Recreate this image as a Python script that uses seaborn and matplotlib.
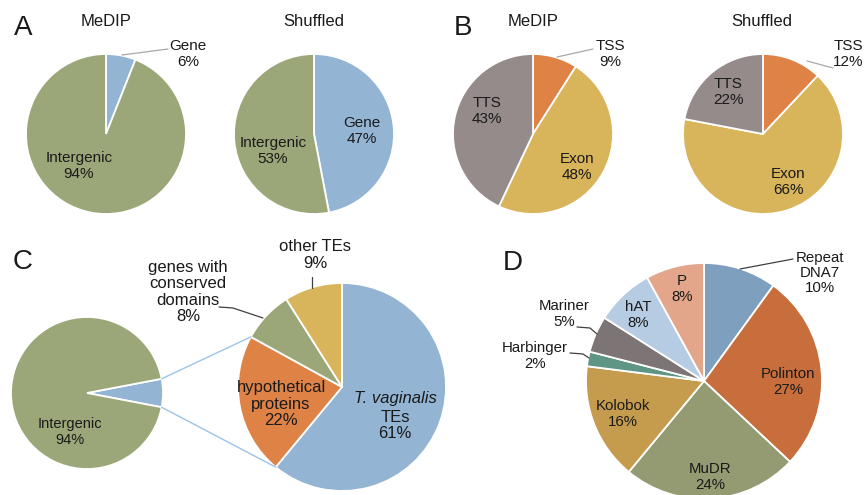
import numpy as np
import matplotlib
matplotlib.use("Agg")
import matplotlib.pyplot as plt
import seaborn as sns

############################################################################
# DATA
############################################################################

a_labels = ["Gene", "Intergenic"]
a_medip = [6, 94]
a_shuffled = [47, 53]

b_labels = ["TSS", "Exon", "TTS"]
b_medip = [9, 48, 43]
b_shuffled = [12, 66, 22]

c_left_labels = ["Gene", "Intergenic"]
c_left = [6, 94]
c_gene_labels = ["T. vaginalis TEs", "hypothetical\nproteins",
                 "genes with\nconserved\ndomains", "other TEs"]
c_gene = [61, 22, 8, 9]

d_labels = ["Repeat\nDNA7", "Polinton", "MuDR", "Kolobok",
            "Harbinger", "Mariner", "hAT", "P"]
d_values = [10, 27, 24, 16, 2, 5, 8, 8]

############################################################################

BLUE = "#93b5d3"
GREEN = "#9ba779"
ORANGE = "#df8246"
YELLOW = "#d8b45b"
GREY = "#968b8b"
d_colors = ["#7e9fbe", "#c76e3c", "#949b72", "#c59c4d",
            "#5f9584", "#7c7475", "#b6cce2", "#e3a68b"]

sns.set_theme(style="white")
plt.rcParams["font.family"] = ["Liberation Sans", "DejaVu Sans"]

W, H = 865, 495
fig = plt.figure(figsize=(W / 100, H / 100), dpi=100)


def pie_at(cx, cy, r, values, colors, startangle=90, counterclock=False):
	ax = fig.add_axes([(cx - r) / W, 1 - (cy + r) / H, 2 * r / W, 2 * r / H])
	ax.pie(values, colors=colors, startangle=startangle, counterclock=counterclock,
		   wedgeprops=dict(edgecolor="white", linewidth=1.3))
	ax.set_xlim(-1, 1)
	ax.set_ylim(-1, 1)
	ax.set_axis_off()
	return ax


def edge_point(cx, cy, r, angle):
	a = np.deg2rad(angle)
	return cx + r * np.cos(a), cy - r * np.sin(a)


# panel A
pie_at(106, 134, 80, a_medip, [BLUE, GREEN])
pie_at(314, 134, 80, a_shuffled, [BLUE, GREEN])
# panel B
pie_at(533, 134, 80, b_medip, [ORANGE, YELLOW, GREY])
pie_at(763, 134, 80, b_shuffled, [ORANGE, YELLOW, GREY])
# panel C
c_start = -c_left[0] / 100 * 360 / 2
pie_at(87, 393, 76, c_left, [BLUE, GREEN], startangle=c_start, counterclock=True)
pie_at(342, 387, 104, c_gene, [BLUE, ORANGE, GREEN, YELLOW])
# panel D
pie_at(704, 381, 118, d_values, d_colors)

# overlay for texts and lines
ov = fig.add_axes([0, 0, 1, 1])
ov.set_xlim(0, W)
ov.set_ylim(H, 0)
ov.set_axis_off()
ov.patch.set_alpha(0)


def lab(x, y, text, size=11, **kw):
	ov.text(x, y, text, ha="center", va="center", fontsize=size,
			linespacing=1.1, color="#1a1a1a", **kw)


def leader(xs, ys, color="#a8a8a8"):
	ov.plot(xs, ys, color=color, lw=0.9)


# panel letters and titles
for letter, x, y in [("A", 23, 28), ("B", 463, 28), ("C", 23, 262), ("D", 513, 263)]:
	ov.text(x, y, letter, ha="center", va="center", fontsize=20, color="#1a1a1a")
for title, x in [("MeDIP", 106), ("Shuffled", 314), ("MeDIP", 533), ("Shuffled", 762)]:
	ov.text(x, 21, title, ha="center", va="center", fontsize=12, color="#1a1a1a")

# A labels
lab(188, 54, f"{a_labels[0]}\n{a_medip[0]}%")
leader([122, 168], [55, 49])
lab(79, 166, f"{a_labels[1]}\n{a_medip[1]}%")
lab(362, 131, f"{a_labels[0]}\n{a_shuffled[0]}%")
lab(273, 151, f"{a_labels[1]}\n{a_shuffled[1]}%")

# B labels
lab(610, 54, f"{b_labels[0]}\n{b_medip[0]}%")
leader([557, 593], [57, 49])
lab(577, 167, f"{b_labels[1]}\n{b_medip[1]}%")
lab(487, 111, f"{b_labels[2]}\n{b_medip[2]}%")
lab(848, 54, f"{b_labels[0]}\n{b_shuffled[0]}%")
leader([807, 833], [61, 68])
lab(788, 182, f"{b_labels[1]}\n{b_shuffled[1]}%")
lab(728, 92, f"{b_labels[2]}\n{b_shuffled[2]}%")

# C labels
lab(70, 432, f"{c_left_labels[1]}\n{c_left[1]}%", size=10.5)
ov.text(395, 399, "T. vaginalis", ha="center", va="center", fontsize=12,
		style="italic", color="#1a1a1a")
lab(395, 417, "TEs", size=12)
lab(395, 434, f"{c_gene[0]}%", size=12)
lab(281, 404, f"{c_gene_labels[1]}\n{c_gene[1]}%", size=12)
lab(188, 292, f"{c_gene_labels[2]}\n{c_gene[2]}%", size=12)
leader([219, 233, 263], [307, 308, 318], color="#404040")
lab(315, 255, f"{c_gene_labels[3]}\n{c_gene[3]}%", size=12)
leader([312, 312], [277, 288], color="#404040")

# C zoom lines from the gene wedge to the second pie
half = c_left[0] / 100 * 360 / 2
blue_end = 90 - 360 * c_gene[0] / 100
orange_end = 90 - 360 * (c_gene[0] + c_gene[1]) / 100
x1, y1 = edge_point(87, 393, 76, half)
x2, y2 = edge_point(342, 387, 104, orange_end)
ov.plot([x1, x2], [y1, y2], color="#9dc3e6", lw=1)
x1, y1 = edge_point(87, 393, 76, -half)
x2, y2 = edge_point(342, 387, 104, blue_end)
ov.plot([x1, x2], [y1, y2], color="#9dc3e6", lw=1)

# D labels
d_pos = [(820, 273), (788, 382), (710, 477), (623, 414),
		 (535, 356), (564, 314), (638, 315), (682, 289)]
for name, val, (x, y) in zip(d_labels, d_values, d_pos):
	lab(x, y, f"{name}\n{val}%", size=10.8)
leader([740, 793], [269, 259], color="#404040")
leader([577, 590, 597], [327, 328, 334], color="#404040")
leader([570, 583, 589], [353, 354, 358], color="#404040")

fig.savefig("out.png", dpi=100, facecolor="white")
